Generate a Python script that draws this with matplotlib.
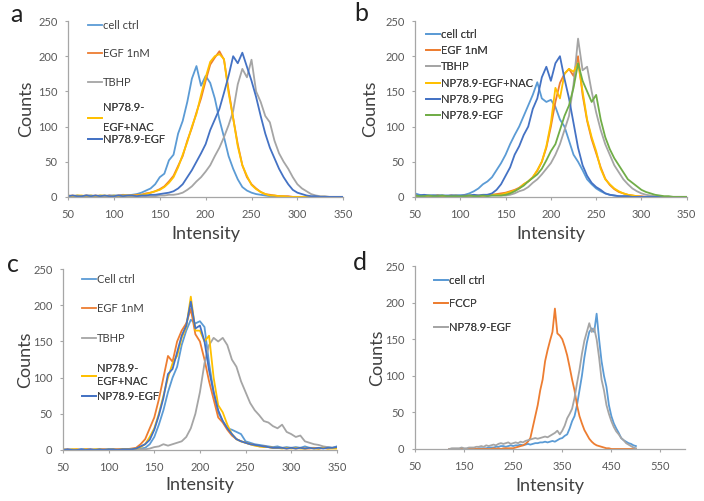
import numpy as np
import matplotlib
matplotlib.use("Agg")
import matplotlib.pyplot as plt

plt.rcParams['font.family'] = ['Lato', 'DejaVu Sans']

# ---------------- data ----------------
x_abc = np.arange(50, 351, 5)   # intensity grid for panels a-c
x_d = np.arange(120, 501, 5)    # intensity grid for panel d

# panel a
a_cell = [2, 1, 2, 1, 2, 2, 1, 2, 1, 2,
          2, 2, 3, 2, 3, 4, 6, 9, 12, 18,
          28, 33, 52, 60, 90, 108, 135, 168, 186, 158,
          172, 162, 140, 110, 85, 58, 40, 25, 14, 9,
          6, 4, 3, 2, 1, 1, 1, 0, 0, 0,
          0, 0, 0, 0, 0, 0, 0, 0, 0, 0,
          0]
a_egf = [1, 2, 1, 1, 2, 1, 2, 1, 1, 2,
         1, 2, 2, 2, 2, 3, 3, 5, 6, 8,
         11, 15, 22, 30, 44, 58, 80, 98, 120, 140,
         165, 188, 198, 207, 195, 152, 112, 75, 45, 28,
         18, 12, 7, 4, 3, 2, 1, 1, 1, 0,
         0, 0, 0, 0, 0, 0, 0, 0, 0, 0,
         0]
a_tbhp = [0, 0, 0, 0, 0, 0, 1, 0, 0, 0,
          0, 0, 0, 1, 0, 0, 1, 1, 1, 1,
          2, 2, 3, 3, 4, 6, 10, 15, 22, 28,
          36, 45, 58, 70, 85, 102, 122, 160, 182, 170,
          195, 150, 135, 115, 106, 80, 62, 50, 40, 28,
          18, 12, 8, 4, 2, 1, 1, 0, 0, 0,
          0]
a_nac = [2, 1, 2, 2, 1, 2, 1, 2, 2, 1,
         2, 1, 2, 2, 2, 2, 3, 4, 6, 8,
         10, 14, 20, 28, 42, 60, 78, 100, 118, 145,
         170, 192, 200, 203, 196, 148, 112, 72, 45, 30,
         17, 11, 7, 4, 2, 2, 1, 1, 0, 0,
         0, 0, 0, 0, 0, 0, 0, 0, 0, 0,
         0]
a_np = [1, 2, 1, 1, 2, 1, 2, 1, 2, 1,
        1, 2, 1, 2, 2, 1, 2, 2, 3, 3,
        4, 5, 6, 8, 12, 18, 28, 38, 50, 62,
        75, 95, 110, 125, 148, 172, 200, 190, 205, 185,
        165, 142, 115, 90, 70, 55, 40, 28, 18, 10,
        6, 4, 2, 1, 1, 0, 0, 0, 0, 0,
        0]

# panel b
b_cell = [5, 3, 2, 2, 2, 2, 2, 1, 2, 2,
          2, 3, 5, 8, 12, 18, 22, 28, 38, 48,
          60, 75, 88, 100, 115, 130, 145, 163, 140, 135,
          138, 128, 110, 100, 80, 60, 50, 38, 25, 18,
          12, 8, 5, 3, 2, 1, 1, 1, 1, 0,
          0, 0, 0, 0, 0, 0, 0, 0, 0, 0,
          0]
b_egf = [2, 1, 2, 1, 1, 2, 1, 1, 2, 1,
         1, 2, 1, 2, 2, 2, 3, 3, 4, 5,
         6, 8, 10, 13, 18, 22, 28, 37, 50, 70,
         100, 135, 162, 175, 182, 172, 200, 145, 108, 82,
         62, 42, 26, 17, 11, 7, 5, 3, 2, 1,
         1, 0, 0, 0, 0, 0, 0, 0, 0, 0,
         0]
b_tbhp = [2, 1, 1, 1, 2, 1, 1, 1, 1, 1,
          1, 1, 1, 1, 2, 1, 2, 2, 2, 2,
          2, 3, 5, 8, 10, 14, 20, 25, 32, 40,
          48, 60, 75, 95, 115, 160, 225, 180, 185, 150,
          120, 95, 75, 60, 45, 35, 25, 18, 12, 8,
          5, 3, 2, 1, 1, 0, 0, 0, 0, 0,
          0]
b_nac = [2, 1, 2, 1, 1, 2, 1, 1, 1, 2,
         1, 1, 2, 2, 1, 2, 2, 3, 3, 3,
         5, 7, 9, 12, 18, 22, 28, 38, 50, 72,
         105, 155, 140, 175, 182, 178, 190, 150, 110, 85,
         65, 40, 25, 18, 12, 8, 5, 3, 2, 1,
         0, 0, 0, 0, 0, 0, 0, 0, 0, 0,
         0]
b_peg = [2, 2, 3, 2, 2, 2, 2, 2, 2, 2,
         2, 2, 2, 3, 2, 3, 3, 5, 10, 18,
         30, 42, 60, 72, 88, 100, 125, 140, 170, 185,
         165, 190, 200, 168, 140, 105, 70, 45, 30, 20,
         14, 10, 5, 3, 2, 1, 1, 1, 0, 0,
         0, 0, 0, 0, 0, 0, 0, 0, 0, 0,
         0]
b_np = [2, 1, 1, 2, 1, 1, 2, 1, 1, 1,
        1, 1, 2, 1, 1, 2, 1, 2, 2, 2,
        3, 5, 8, 12, 16, 22, 27, 32, 40, 52,
        65, 75, 95, 115, 130, 155, 190, 165, 150, 135,
        145, 110, 85, 68, 55, 45, 35, 25, 20, 15,
        10, 7, 5, 3, 2, 1, 1, 0, 0, 0,
        0]

# panel c
c_cell = [1, 0, 1, 0, 1, 1, 0, 1, 0, 1,
          1, 0, 1, 1, 1, 1, 1, 2, 3, 8,
          18, 35, 55, 80, 100, 115, 145, 165, 180, 175,
          178, 170, 120, 80, 52, 40, 30, 28, 25, 22,
          12, 10, 8, 7, 6, 5, 4, 5, 3, 4,
          3, 4, 3, 5, 3, 3, 2, 3, 4, 3,
          5]
c_egf = [0, 1, 0, 1, 0, 1, 1, 0, 1, 1,
         0, 1, 1, 1, 1, 2, 3, 8, 15, 30,
         45, 70, 100, 130, 122, 150, 165, 175, 195, 160,
         150, 125, 95, 70, 45, 38, 28, 20, 15, 12,
         10, 8, 7, 5, 5, 4, 3, 3, 3, 2,
         3, 2, 3, 2, 2, 3, 2, 3, 2, 3,
         3]
c_tbhp = [0, 0, 0, 0, 0, 0, 0, 0, 0, 0,
          0, 0, 0, 0, 0, 1, 1, 1, 1, 2,
          4, 5, 8, 6, 8, 10, 12, 18, 30, 50,
          80, 120, 145, 155, 150, 155, 145, 125, 115, 95,
          80, 65, 55, 48, 40, 38, 33, 30, 35, 25,
          22, 18, 20, 12, 10, 8, 7, 5, 4, 3,
          3]
c_nac = [1, 0, 1, 1, 0, 1, 0, 1, 1, 0,
         1, 1, 0, 1, 1, 1, 2, 4, 8, 18,
         30, 50, 75, 100, 120, 130, 155, 170, 212, 165,
         165, 150, 158, 100, 62, 52, 35, 22, 15, 12,
         10, 8, 6, 5, 4, 4, 3, 3, 2, 3,
         2, 3, 2, 2, 3, 2, 2, 3, 2, 2,
         2]
c_np = [0, 1, 0, 0, 1, 0, 1, 0, 1, 0,
        1, 1, 0, 1, 1, 1, 2, 5, 8, 14,
        28, 48, 72, 105, 112, 135, 158, 172, 205, 168,
        172, 150, 110, 80, 55, 40, 30, 22, 15, 12,
        10, 8, 7, 6, 5, 4, 3, 3, 3, 2,
        3, 2, 3, 2, 3, 2, 3, 2, 3, 3,
        4]

# panel d
d_cell = [0, 0, 0, 0, 0, 0, 0, 0, 0, 0,
          0, 0, 1, 1, 1, 1, 2, 2, 2, 3,
          3, 4, 4, 3, 4, 5, 4, 5, 5, 6,
          5, 6, 7, 6, 7, 8, 8, 9, 9, 10,
          9, 10, 11, 10, 12, 14, 15, 18, 20, 28,
          38, 45, 60, 80, 100, 125, 145, 160, 165, 160,
          185, 150, 120, 100, 85, 60, 45, 35, 28, 22,
          15, 12, 10, 8, 7, 5, 4]
d_fccp = [0, 0, 0, 0, 0, 0, 0, 0, 0, 0,
          0, 0, 0, 0, 0, 0, 0, 0, 1, 0,
          1, 0, 1, 1, 1, 1, 1, 2, 3, 4,
          5, 7, 10, 15, 30, 45, 60, 80, 95, 120,
          135, 148, 160, 192, 158, 155, 150, 140, 128, 112,
          95, 80, 60, 45, 35, 26, 20, 14, 10, 7,
          5, 4, 3, 2, 1, 1, 0, 0, 0, 0,
          0, 0, 0, 0, 0, 0, 0]
d_np = [0, 1, 1, 1, 1, 2, 1, 1, 2, 2,
        2, 3, 3, 4, 3, 5, 4, 5, 6, 5,
        7, 8, 7, 8, 9, 7, 8, 9, 8, 10,
        9, 11, 12, 13, 14, 15, 14, 15, 16, 17,
        16, 18, 20, 22, 25, 20, 25, 32, 42, 48,
        55, 70, 90, 108, 130, 148, 160, 172, 160, 165,
        150, 125, 95, 80, 60, 48, 38, 30, 24, 20,
        15, 12, 8, 6, 4, 2, 1]

LBLUE, ORANGE, GRAY, YELLOW, BLUE, GREEN = '#5B9BD5', '#ED7D31', '#A5A5A5', '#FFC000', '#4472C4', '#70AD47'

# legend groups: (number of entries, anchor, labelspacing, linespacing)
panels = [
    dict(rect=[0.0966, 0.607, 0.391, 0.351], x=x_abc, xlim=(50, 350), xticks=range(50, 351, 50),
         series=[('cell ctrl', a_cell, LBLUE), ('EGF 1nM', a_egf, ORANGE), ('TBHP', a_tbhp, GRAY),
                 ('NP78.9-\nEGF+NAC', a_nac, YELLOW), ('NP78.9-EGF', a_np, BLUE)],
         legs=[(3, (0.073, 1.008), 1.57, 1.3), (2, (0.073, 0.537), 0.09, 1.9)],
         ylab=(-0.123, 0.5), xlab=(0.5, -0.166),
         letter='a', letter_pos=(0.0227, 0.972)),
    dict(rect=[0.5895, 0.607, 0.386, 0.351], x=x_abc, xlim=(50, 350), xticks=range(50, 351, 50),
         series=[('cell ctrl', b_cell, LBLUE), ('EGF 1nM', b_egf, ORANGE), ('TBHP', b_tbhp, GRAY),
                 ('NP78.9-EGF+NAC', b_nac, YELLOW), ('NP78.9-PEG', b_peg, BLUE), ('NP78.9-EGF', b_np, GREEN)],
         legs=[(6, (0.04, 0.957), 0.48, 1.3)],
         ylab=(-0.137, 0.5), xlab=(0.5, -0.166),
         letter='b', letter_pos=(0.513, 0.974)),
    dict(rect=[0.0895, 0.1018, 0.389, 0.361], x=x_abc, xlim=(50, 350), xticks=range(50, 351, 50),
         series=[('Cell ctrl', c_cell, LBLUE), ('EGF 1nM', c_egf, ORANGE), ('TBHP', c_tbhp, GRAY),
                 ('NP78.9-\nEGF+NAC', c_nac, YELLOW), ('NP78.9-EGF', c_np, BLUE)],
         legs=[(3, (0.069, 0.975), 1.66, 1.3), (2, (0.069, 0.483), 0.36, 1.3)],
         ylab=(-0.109, 0.5), xlab=(0.5, -0.149),
         letter='c', letter_pos=(0.0178, 0.473)),
    dict(rect=[0.5895, 0.1038, 0.3835, 0.365], x=x_d, xlim=(50, 600), xticks=range(50, 551, 100),
         series=[('cell ctrl', d_cell, LBLUE), ('FCCP', d_fccp, ORANGE), ('NP78.9-EGF', d_np, GRAY)],
         legs=[(3, (0.07, 0.953), 1.13, 1.3)],
         ylab=(-0.111, 0.5), xlab=(0.5, -0.157),
         letter='d', letter_pos=(0.511, 0.477)),
]

fig = plt.figure(figsize=(7.04, 5.01), dpi=100)
AXC = '#A6A6A6'
TXT = '#404040'

for p in panels:
    ax = fig.add_axes(p['rect'])
    handles = []
    for label, vals, col in p['series']:
        h, = ax.plot(p['x'], vals, color=col, lw=1.3, label=label)
        handles.append(h)
    ax.set_xlim(*p['xlim'])
    ax.set_ylim(0, 250)
    ax.set_xticks(list(p['xticks']))
    ax.set_yticks(range(0, 251, 50))
    for s in ('top', 'right'):
        ax.spines[s].set_visible(False)
    for s in ('left', 'bottom'):
        ax.spines[s].set_color(AXC)
        ax.spines[s].set_linewidth(0.9)
    ax.tick_params(axis='both', direction='out', length=2.5, width=0.8, color=AXC,
                   labelcolor='#595959', labelsize=8)
    ax.tick_params(axis='y', pad=5)
    ax.tick_params(axis='x', pad=6)
    ax.set_ylabel('Counts', fontsize=13, color=TXT)
    ax.set_xlabel('Intensity', fontsize=13, color=TXT)
    ax.yaxis.set_label_coords(*p['ylab'])
    ax.xaxis.set_label_coords(*p['xlab'])
    start = 0
    for n, anchor, lsp, linesp in p['legs']:
        hs = handles[start:start + n]
        leg = ax.legend(handles=hs, labels=[h.get_label() for h in hs],
                        loc='upper left', bbox_to_anchor=anchor, frameon=False,
                        fontsize=8, handlelength=1.25, handletextpad=0.1, borderpad=0,
                        borderaxespad=0, labelspacing=lsp, labelcolor=TXT)
        for t in leg.get_texts():
            t.set_linespacing(linesp)
        ax.add_artist(leg)
        start += n
    fig.text(p['letter_pos'][0], p['letter_pos'][1], p['letter'], fontsize=18,
             ha='center', va='center', color='#202020')

fig.savefig('out.png', dpi=100)
